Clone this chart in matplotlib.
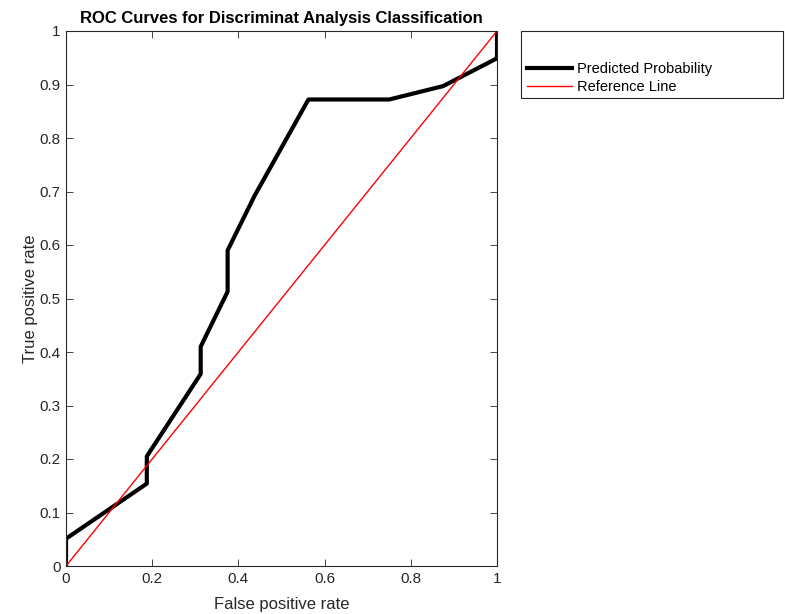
import matplotlib
matplotlib.use("Agg")
from matplotlib import pyplot as plt
from matplotlib.patches import Rectangle

# ROC curve values
fpr = [0.0, 0.0, 0.1875, 0.1875, 0.3125, 0.3125, 0.375, 0.375, 0.4375,
       0.5625, 0.75, 0.875, 1.0, 1.0]
tpr = [0.0, 0.051, 0.154, 0.205, 0.359, 0.410, 0.513, 0.590, 0.692,
       0.872, 0.872, 0.897, 0.949, 1.0]
ref_x = [0, 1]
ref_y = [0, 1]
ticks = [0, 0.2, 0.4, 0.6, 0.8, 1]
yticks = [0, 0.1, 0.2, 0.3, 0.4, 0.5, 0.6, 0.7, 0.8, 0.9, 1]

plt.rcParams['font.family'] = ['Liberation Sans', 'DejaVu Sans']
fg = '#262626'

fig = plt.figure(figsize=(7.85, 6.14), dpi=100)
ax = fig.add_axes([66/785, 48/614, 431/785, 535/614])

l1, = ax.plot(fpr, tpr, color='black', linewidth=3.0, label='Predicted Probability')
l2, = ax.plot(ref_x, ref_y, color='red', linewidth=1.0, label='Reference Line')

ax.set_xlim(0, 1)
ax.set_ylim(0, 1)
ax.set_xticks(ticks)
ax.set_xticklabels(['0', '0.2', '0.4', '0.6', '0.8', '1'])
ax.set_yticks(yticks)
ax.set_yticklabels(['0', '0.1', '0.2', '0.3', '0.4', '0.5', '0.6', '0.7', '0.8', '0.9', '1'])
ax.tick_params(direction='in', top=True, right=True, length=5, width=0.6,
               colors=fg, labelsize=11, pad=4)
for s in ax.spines.values():
    s.set_color(fg)
    s.set_linewidth(0.8)

ax.set_title('ROC Curves for Discriminat Analysis Classification',
             fontsize=12, fontweight='bold', pad=6)
ax.set_xlabel('False positive rate', fontsize=12, color=fg, labelpad=8)
ax.set_ylabel('True positive rate', fontsize=12, color=fg, labelpad=1)

# legend box like MATLAB's
fig.patches.append(Rectangle((521/785, (614-98)/614), 262/785, 67/614,
                             transform=fig.transFigure, facecolor='white',
                             edgecolor='#262626', linewidth=0.8))
fig.legend(handles=[l1, l2], loc='upper left', frameon=False,
           bbox_to_anchor=(527/785, (614-62)/614), fontsize=10.5,
           handlelength=3.1, handletextpad=0.3, labelspacing=0.3,
           borderaxespad=0, borderpad=0)

fig.savefig('out.png', dpi=100)
